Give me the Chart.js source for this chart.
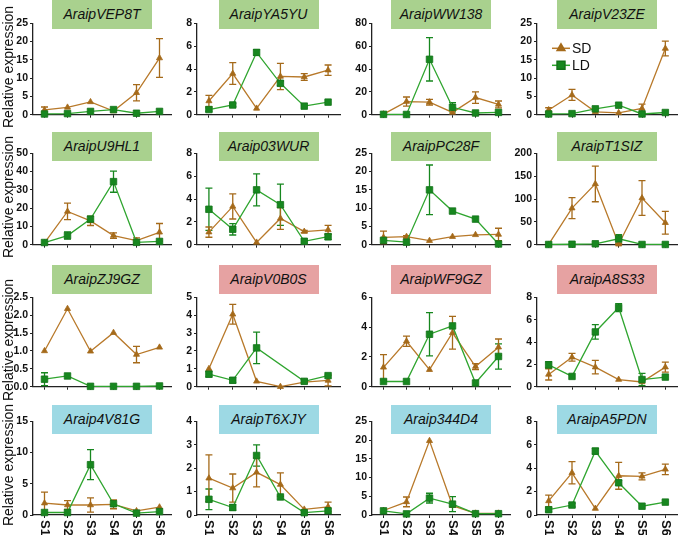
<!DOCTYPE html>
<html>
<head>
<meta charset="utf-8">
<script src="https://cdn.jsdelivr.net/npm/chart.js@4"></script>
<style>
body { margin: 0; background: #fff; width: 685px; height: 535px; position: relative; overflow: hidden; font-family: "Liberation Sans", Arial, sans-serif; }
.panel { position: absolute; }
.tag { position: absolute; width: 100px; height: 29px; line-height: 29px; text-align: center; font-style: italic; font-size: 14px; color: #111; }
.ytitle { position: absolute; width: 140px; height: 16px; line-height: 16px; text-align: center; font-size: 14px; color: #111; transform: rotate(-90deg); white-space: nowrap; }
</style>
</head>
<body>
<script>
const stages = ['S1', 'S2', 'S3', 'S4', 'S5', 'S6'];
const genes = ['AraipVEP8T', 'AraipYA5YU', 'AraipWW138', 'AraipV23ZE',
  'AraipU9HL1', 'Araip03WUR', 'AraipPC28F', 'AraipT1SIZ',
  'AraipZJ9GZ', 'AraipV0B0S', 'AraipWF9GZ', 'AraipA8S33',
  'Araip4V81G', 'AraipT6XJY', 'Araip344D4', 'AraipA5PDN'];
const groups = ['green', 'green', 'green', 'green',
  'green', 'green', 'green', 'green',
  'green', 'pink', 'pink', 'pink',
  'cyan', 'cyan', 'cyan', 'cyan'];
const yMax = [25, 8, 80, 25, 50, 8, 25, 200, 2.5, 5, 6, 8, 15, 4, 25, 8];
const yStep = [5, 2, 20, 5, 10, 2, 5, 50, 0.5, 1, 2, 2, 5, 1, 5, 2];
const yTitle = 'Relative expression';

// short day (SD) means and error
const sdValues = [
  [1.3, 2.0, 3.5, 1.0, 6.0, 15.5],
  [1.2, 3.6, 0.55, 3.35, 3.3, 3.9],
  [0.5, 11.5, 11, 2, 15, 9],
  [1.3, 5.4, 0.8, 0.5, 1.7, 18.1],
  [1.0, 18.2, 13.0, 5.0, 2.2, 6.8],
  [1.1, 3.35, 0.2, 2.3, 1.15, 1.3],
  [2.0, 2.2, 1.1, 2.2, 2.7, 2.8],
  [0.5, 80, 133, 1, 102, 48],
  [1.0, 2.18, 0.99, 1.51, 0.9, 1.1],
  [1.0, 4.05, 0.3, 0.0, 0.26, 0.35],
  [1.3, 3.05, 1.14, 3.62, 1.35, 2.65],
  [1.1, 2.64, 1.75, 0.64, 0.42, 1.75],
  [1.9, 1.6, 1.6, 1.7, 0.65, 1.25],
  [1.57, 1.15, 1.82, 1.3, 0.24, 0.35],
  [1.2, 3.5, 19.8, 2.5, 0.45, 0.45],
  [1.2, 3.6, 0.55, 3.35, 3.3, 3.9]
];
const sdErrors = [
  [0.8, 0, 0, 0, 2.2, 5.3],
  [0.5, 0.95, 0, 1.15, 0.3, 0.45],
  [0, 4, 2.5, 0, 5, 3],
  [0.6, 1.5, 0, 0, 1.2, 2.0],
  [0, 4.5, 2.5, 1.5, 1.5, 4.8],
  [0.45, 1.1, 0, 0.95, 0.1, 0.4],
  [1.7, 0.3, 0, 0, 0, 1.7],
  [0, 23, 39, 2, 38, 25],
  [0, 0, 0, 0, 0.23, 0],
  [0, 0.55, 0, 0, 0, 0.3],
  [0.85, 0.35, 0, 1.1, 0.2, 0.55],
  [0.5, 0.35, 0.6, 0, 0, 0.45],
  [1.75, 0.7, 1.15, 0.7, 0, 0],
  [1.0, 0.6, 0.62, 0.5, 0, 0.2],
  [0, 1.3, 0, 0, 0, 0],
  [0.5, 0.95, 0, 1.15, 0.3, 0.45]
];
// long day (LD) means and error
const ldValues = [
  [0.2, 0.3, 0.9, 1.4, 0.4, 0.9],
  [0.45, 0.85, 5.45, 2.75, 0.75, 1.1],
  [0.3, 0.2, 48.5, 6.5, 1.5, 2],
  [0.2, 0.3, 1.6, 2.6, 0.2, 0.6],
  [1.2, 5.0, 14.0, 34.5, 1.3, 1.8],
  [3.1, 1.35, 4.8, 3.5, 0.3, 0.7],
  [1.2, 0.7, 15, 9.2, 7.0, 0.2],
  [0.5, 1, 2, 13, 0.5, 0.5],
  [0.21, 0.3, 0.01, 0.01, 0.01, 0.02],
  [0.7, 0.36, 2.17, null, 0.3, 0.62],
  [0.35, 0.35, 3.52, 4.08, 0.25, 2.03],
  [1.95, 0.92, 4.9, 7.08, 0.64, 0.86],
  [0.4, 0.4, 8.05, 1.8, 0.3, 0.55],
  [0.67, 0.32, 2.54, 0.77, 0.1, 0.18],
  [1.1, 0.3, 4.5, 2.9, 0.35, 0.35],
  [0.45, 0.85, 5.45, 2.75, 0.75, 1.1]
];
const ldErrors = [
  [0, 0, 0, 0, 0, 0],
  [0.15, 0.15, 0.25, 0.2, 0, 0],
  [0, 0, 19, 4, 0, 0],
  [0, 0, 0, 0, 0, 0],
  [0, 2, 1.5, 5.8, 0, 0],
  [1.85, 0.5, 1.4, 1.8, 0, 0.25],
  [0, 0, 6.8, 0, 0, 0],
  [0, 0, 0, 9, 0, 0],
  [0.18, 0, 0, 0, 0, 0],
  [0.15, 0.15, 0.88, 0, 0.1, 0],
  [0, 0, 1.45, 0, 0, 0.85],
  [0.3, 0, 0.65, 0.35, 0.55, 0],
  [0, 0, 2.4, 0, 0, 0],
  [0.44, 0.12, 0.45, 0, 0, 0],
  [0, 0, 1.3, 2.0, 0, 0],
  [0.15, 0.15, 0.25, 0.2, 0, 0]
];

const tagColors = { green: '#a9d18e', pink: '#e6a2a2', cyan: '#9dd9e4' };
const SD_COL = '#b8792a', SD_DARK = '#a56a1a';
const LD_COL = '#2fa52f', LD_DARK = '#17871f';
const FONT = '"Liberation Sans", Arial, sans-serif';

// plot area edges for each column / row
const colLeft = [33, 197, 372, 537];
const colRight = [171, 340, 510, 677];
const rowTop = [23, 153, 297, 421];
const rowBottom = [117, 247, 389, 515];
const tagTop = [0, 132, 265, 405];
const AXIS_W = 33, PAD_TOP = 8, PAD_RIGHT = 6, TICK = 3;

const errorBars = {
  id: 'errorBars',
  beforeDatasetsDraw(chart) {
    const ctx = chart.ctx, ys = chart.scales.y;
    chart.data.datasets.forEach((ds, i) => {
      const meta = chart.getDatasetMeta(i);
      ctx.save();
      ctx.strokeStyle = ds.errColor;
      ctx.lineWidth = 1.3;
      meta.data.forEach((pt, j) => {
        const e = ds.errors[j];
        if (!e || ds.data[j] == null) return;
        const top = ys.getPixelForValue(ds.data[j] + e);
        const bot = ys.getPixelForValue(Math.max(ds.data[j] - e, 0));
        ctx.beginPath();
        ctx.moveTo(pt.x, top); ctx.lineTo(pt.x, bot);
        ctx.moveTo(pt.x - 3.5, top); ctx.lineTo(pt.x + 3.5, top);
        ctx.moveTo(pt.x - 3.5, bot); ctx.lineTo(pt.x + 3.5, bot);
        ctx.stroke();
      });
      ctx.restore();
    });
  }
};

const stageLabels = {
  id: 'stageLabels',
  afterDraw(chart, args, opts) {
    if (!opts.show) return;
    const ctx = chart.ctx, xs = chart.scales.x;
    ctx.save();
    ctx.font = 'bold 13px ' + FONT;
    ctx.fillStyle = '#111';
    ctx.textAlign = 'left';
    ctx.textBaseline = 'middle';
    chart.data.labels.forEach((lab, i) => {
      ctx.save();
      ctx.translate(xs.getPixelForTick(i), xs.bottom + 2);
      ctx.rotate(Math.PI / 2);
      ctx.fillText(lab, 0, 0);
      ctx.restore();
    });
    ctx.restore();
  }
};

const seriesKey = {
  id: 'seriesKey',
  afterDraw(chart, args, opts) {
    if (!opts.show) return;
    const ctx = chart.ctx, a = chart.chartArea;
    const rows = [chart.data.datasets[1], chart.data.datasets[0]];
    rows.forEach((ds, k) => {
      const y = a.top + 25 + k * 17;
      ctx.save();
      ctx.strokeStyle = ds.borderColor;
      ctx.lineWidth = 1.5;
      ctx.beginPath();
      ctx.moveTo(a.left + 15, y); ctx.lineTo(a.left + 33, y);
      ctx.stroke();
      ctx.fillStyle = ds.pointBackgroundColor;
      ctx.strokeStyle = ds.pointBorderColor;
      Chart.helpers.drawPoint(ctx, { pointStyle: ds.pointStyle, radius: ds.pointRadius + 1, rotation: 0, borderWidth: 1 }, a.left + 24, y);
      ctx.fillStyle = '#111';
      ctx.font = '14px ' + FONT;
      ctx.textBaseline = 'middle';
      ctx.fillText(ds.label, a.left + 35, y + 1);
      ctx.restore();
    });
  }
};

genes.forEach((gene, p) => {
  const col = p % 4, row = Math.floor(p / 4);
  const bottomRow = row === 3;
  const padBottom = bottomRow ? 535 - rowBottom[row] - TICK : 3;
  const box = document.createElement('div');
  box.className = 'panel';
  box.style.left = (colLeft[col] - AXIS_W) + 'px';
  box.style.top = (rowTop[row] - PAD_TOP) + 'px';
  box.style.width = (colRight[col] - colLeft[col] + AXIS_W + PAD_RIGHT) + 'px';
  box.style.height = (rowBottom[row] - rowTop[row] + PAD_TOP + TICK + padBottom) + 'px';
  const cv = document.createElement('canvas');
  box.appendChild(cv);
  document.body.appendChild(box);

  if (col === 0) {
    const yt = document.createElement('div');
    yt.className = 'ytitle';
    yt.textContent = yTitle;
    yt.style.left = (8 - 70) + 'px';
    yt.style.top = ((rowTop[row] + rowBottom[row]) / 2 - 3 - 8) + 'px';
    document.body.appendChild(yt);
  }

  const tag = document.createElement('div');
  tag.className = 'tag';
  tag.textContent = gene;
  tag.style.background = tagColors[groups[p]];
  tag.style.left = ((colLeft[col] + colRight[col]) / 2 - 50) + 'px';
  tag.style.top = tagTop[row] + 'px';
  document.body.appendChild(tag);

  new Chart(cv, {
    type: 'line',
    data: {
      labels: stages,
      datasets: [{
        label: 'LD',
        data: ldValues[p],
        errors: ldErrors[p],
        errColor: LD_DARK,
        borderColor: LD_COL,
        borderWidth: 1.3,
        pointStyle: 'rect',
        pointRadius: 4.6,
        pointBackgroundColor: LD_DARK,
        pointBorderColor: '#137219',
        pointBorderWidth: 0.8,
        spanGaps: true,
        clip: 10,
        order: 0
      }, {
        label: 'SD',
        data: sdValues[p],
        errors: sdErrors[p],
        errColor: SD_DARK,
        borderColor: SD_COL,
        borderWidth: 1.3,
        pointStyle: 'triangle',
        pointRadius: 3.5,
        pointBackgroundColor: SD_DARK,
        pointBorderColor: SD_DARK,
        pointBorderWidth: 0.8,
        clip: 10,
        order: 1
      }]
    },
    options: {
      responsive: true,
      maintainAspectRatio: false,
      animation: false,
      layout: { padding: { top: PAD_TOP, right: PAD_RIGHT, left: 0, bottom: padBottom } },
      plugins: {
        legend: { display: false },
        tooltip: { enabled: false },
        stageLabels: { show: bottomRow },
        seriesKey: { show: p === 3 }
      },
      scales: {
        x: {
          offset: true,
          ticks: { display: false },
          grid: { drawOnChartArea: false, drawTicks: true, tickLength: TICK, color: '#222', lineWidth: 1 },
          border: { display: true, color: '#222', width: 1.3 }
        },
        y: {
          min: 0,
          max: yMax[p],
          afterFit: s => { s.width = AXIS_W; },
          ticks: {
            stepSize: yStep[p],
            color: '#111',
            padding: 2,
            font: { family: FONT, size: 10.5, weight: 'bold' },
            callback: v => yStep[p] < 1 ? v.toFixed(1) : v
          },
          grid: { drawOnChartArea: false, drawTicks: true, tickLength: TICK, color: '#222', lineWidth: 1 },
          border: { display: true, color: '#222', width: 1.3 }
        }
      }
    },
    plugins: [errorBars, stageLabels, seriesKey]
  });
});
</script>
</body>
</html>
